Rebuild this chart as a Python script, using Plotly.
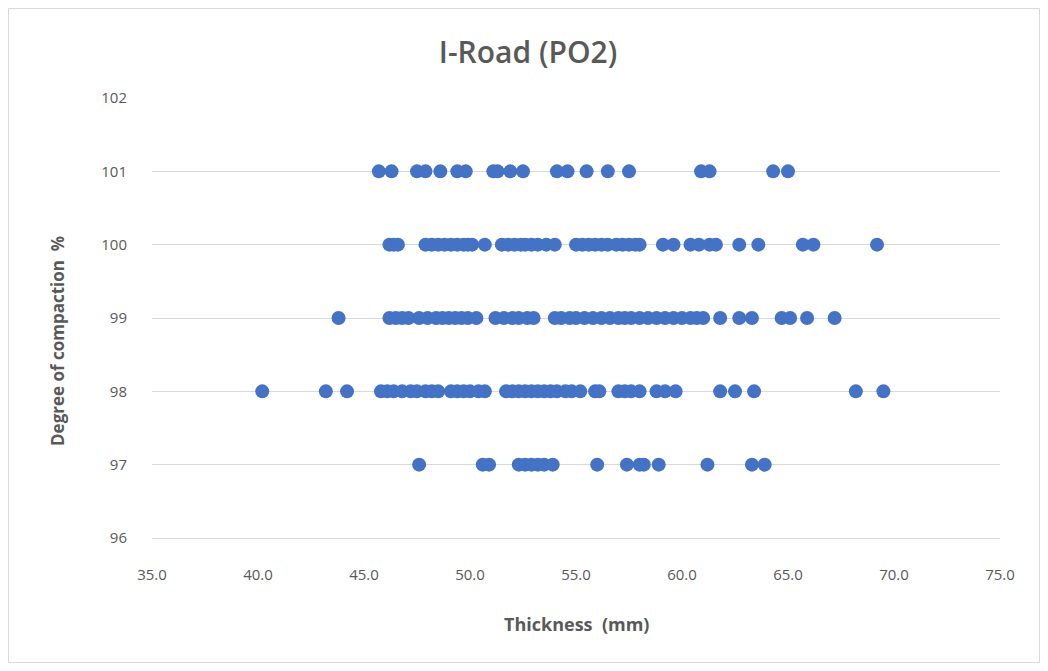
import plotly.graph_objects as go

# Thickness (mm) values read for each degree-of-compaction level
thick_101 = [45.7, 46.3, 47.5, 47.9, 48.6, 49.4, 49.8, 51.1, 51.3, 51.9, 52.5,
             54.1, 54.6, 55.5, 56.5, 57.5, 60.9, 61.3, 64.3, 65.0]
thick_100 = [46.2, 46.4, 46.6, 47.9, 48.2, 48.5, 48.8, 49.1, 49.4, 49.7, 49.9, 50.1,
             50.7, 51.5, 51.8, 52.1, 52.4, 52.6, 52.9, 53.2, 53.6, 54.0,
             55.0, 55.3, 55.6, 55.9, 56.2, 56.5, 56.9, 57.2, 57.5, 57.8, 58.0,
             59.1, 59.6, 60.4, 60.8, 61.3, 61.6, 62.7, 63.6, 65.7, 66.2, 69.2]
thick_99 = [43.8, 46.2, 46.5, 46.8, 47.1, 47.6, 48.0, 48.4, 48.7, 49.0, 49.3, 49.6,
            49.9, 50.3, 51.2, 51.6, 52.0, 52.3, 52.7, 53.0,
            54.0, 54.3, 54.7, 55.0, 55.4, 55.8, 56.2, 56.6, 57.0, 57.3, 57.6, 58.0,
            58.4, 58.8, 59.2, 59.6, 60.0, 60.4, 60.7, 61.0,
            61.8, 62.7, 63.3, 64.7, 65.1, 65.9, 67.2]
thick_98 = [40.2, 43.2, 44.2, 45.8, 46.1, 46.4, 46.8, 47.2, 47.5, 47.9, 48.2, 48.5,
            49.1, 49.4, 49.7, 50.0, 50.4, 50.7,
            51.7, 52.0, 52.3, 52.6, 52.9, 53.2, 53.5, 53.8, 54.1, 54.5, 54.8, 55.2,
            55.9, 56.1, 57.0, 57.3, 57.6, 58.0, 58.8, 59.2, 59.7,
            61.8, 62.5, 63.4, 68.2, 69.5]
thick_97 = [47.6, 50.6, 50.9, 52.3, 52.6, 52.9, 53.2, 53.5, 53.9, 56.0, 57.4,
            58.0, 58.2, 58.9, 61.2, 63.3, 63.9]

levels = [101, 100, 99, 98, 97]
groups = [thick_101, thick_100, thick_99, thick_98, thick_97]

x_vals = []
y_vals = []
for lvl, g in zip(levels, groups):
    x_vals += g
    y_vals += [lvl] * len(g)

x_ticks = [35, 40, 45, 50, 55, 60, 65, 70, 75]
y_ticks = [96, 97, 98, 99, 100, 101, 102]

grey = "#595959"
font_family = "Open Sans, Liberation Sans, Arial, sans-serif"

fig = go.Figure()
fig.add_trace(go.Scatter(
    x=x_vals, y=y_vals, mode="markers",
    marker=dict(size=14, color="#4472C4", line=dict(width=0)),
    showlegend=False, hoverinfo="x+y",
))

# page body has an 8px margin; figure occupies 8..1040 x 8..663
OFF = 8
W, H = 1032, 655
L = 152 - OFF
R = (OFF + W) - 1000
T = 98 - OFF
B = (OFF + H) - 538
pw = W - L - R
ph = H - T - B


def px_x(p):
    return (p - OFF - L) / pw


def px_y(p):
    return (OFF + H - B - p) / ph


fig.update_layout(
    width=W, height=H,
    margin=dict(l=L, r=R, t=T, b=B),
    paper_bgcolor="white", plot_bgcolor="white",
    font=dict(family=font_family, color=grey, size=15),
    title=dict(text="I-Road (PO2)", x=(528 - OFF) / W, xanchor="center",
               y=1 - (52 - OFF) / H, yanchor="middle",
               font=dict(size=30, color=grey, family=font_family, weight=600)),
    xaxis=dict(range=[35, 75], tickvals=x_ticks,
               ticktext=[f"{v:.1f}" for v in x_ticks],
               showgrid=False, zeroline=False,
               showline=True, linecolor="#d9d9d9", linewidth=1,
               ticks="", ticklabelstandoff=23,
               tickfont=dict(size=15, color=grey)),
    yaxis=dict(range=[96, 102], tickvals=y_ticks,
               showgrid=True, gridcolor="#d9d9d9", gridwidth=1,
               zeroline=False, showline=False, ticks="",
               ticklabelstandoff=24,
               tickfont=dict(size=15, color=grey)),
    shapes=[dict(type="rect", xref="paper", yref="paper",
                 x0=px_x(8.5), x1=px_x(1039.5),
                 y0=px_y(662.5), y1=px_y(8.5),
                 line=dict(color="#d9d9d9", width=1), layer="below")],
    annotations=[
        dict(text="<b>Thickness  (mm)</b>", xref="paper", yref="paper",
             x=px_x(576), y=px_y(624), showarrow=False,
             xanchor="center", yanchor="middle",
             font=dict(size=18, color=grey, family=font_family)),
        dict(text="<b>Degree of compaction  %</b>", xref="paper", yref="paper",
             x=px_x(57), y=px_y(341), showarrow=False,
             textangle=-90, xanchor="center", yanchor="middle",
             font=dict(size=17, color=grey, family=font_family)),
    ],
)

fig.write_html("out.html")
